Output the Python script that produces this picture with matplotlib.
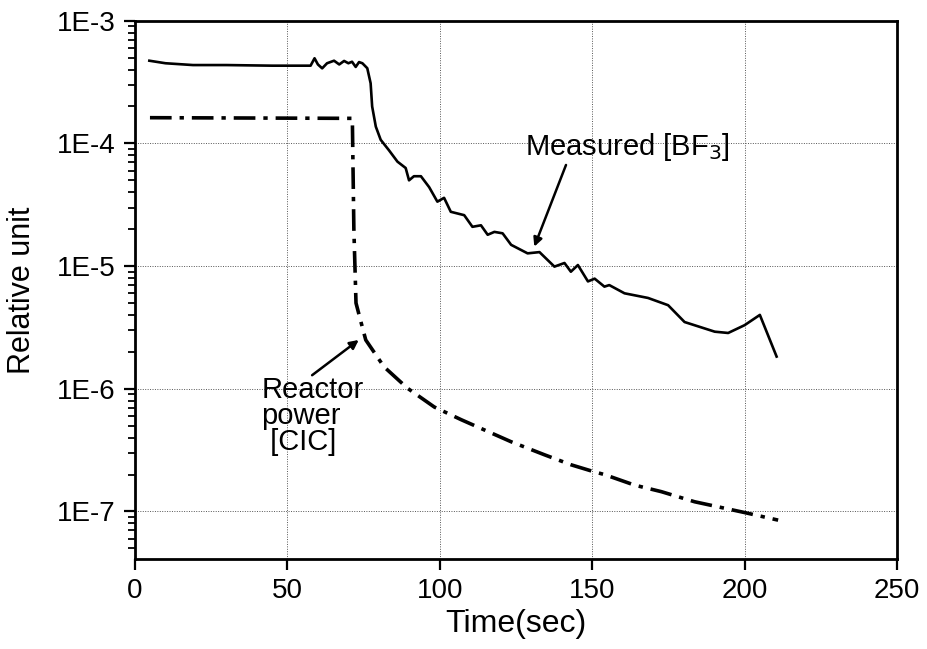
import matplotlib
matplotlib.use("Agg")
import matplotlib.pyplot as plt
from matplotlib.ticker import LogLocator, FixedLocator, NullFormatter

plt.rcParams['font.family'] = ['Liberation Sans', 'DejaVu Sans']

# Measured [BF3] (solid)
bf3_t = [4.7, 10, 19, 30, 45, 57.6, 58.9, 60.0, 61.4, 63.0, 65.3, 67.0, 68.6, 70.0, 71.2,
         72.4, 73.5, 74.6, 76.2, 77.3, 77.8, 79.0, 80.6, 83.3, 86.1, 88.8, 89.9, 91.5,
         93.8, 96.5, 99.2, 101.4, 103.6, 108.0, 110.7, 113.5, 115.7, 117.9, 120.6,
         123.4, 128.8, 132.7, 137.6, 140.9, 143.0, 145.3, 148.6, 150.8, 154.0, 155.6,
         160.6, 168.3, 174.9, 180.3, 190.2, 194.6, 200.0, 205.0, 210.5]
bf3_v = [4.72e-4, 4.5e-4, 4.35e-4, 4.35e-4, 4.3e-4, 4.3e-4, 4.94e-4, 4.4e-4, 4.09e-4,
         4.5e-4, 4.72e-4, 4.4e-4, 4.7e-4, 4.5e-4, 4.63e-4, 4.2e-4, 4.6e-4, 4.5e-4, 4.1e-4,
         3.09e-4, 2.0e-4, 1.37e-4, 1.07e-4, 8.8e-5, 7.1e-5, 6.3e-5, 5.0e-5, 5.4e-5,
         5.4e-5, 4.4e-5, 3.35e-5, 3.6e-5, 2.77e-5, 2.6e-5, 2.09e-5, 2.15e-5, 1.8e-5,
         1.9e-5, 1.85e-5, 1.49e-5, 1.27e-5, 1.3e-5, 9.9e-6, 1.06e-5, 9.0e-6, 1.02e-5,
         7.5e-6, 7.9e-6, 6.8e-6, 7.0e-6, 6.0e-6, 5.5e-6, 4.8e-6, 3.5e-6, 2.92e-6,
         2.85e-6, 3.3e-6, 4.0e-6, 1.83e-6]

# Reactor power [CIC] (dash-dot)
cic_t = [4.9, 71.3, 71.8, 72.5, 74.0, 75.7, 81.7, 89.4, 98.2, 107.0, 123.4, 134.3,
         143.1, 150.8, 154.0, 163.9, 172.7, 183.6, 200.0, 211.0]
cic_v = [1.62e-4, 1.6e-4, 2.0e-5, 5.0e-6, 3.6e-6, 2.5e-6, 1.51e-6, 1.01e-6, 7.1e-7,
         5.6e-7, 3.7e-7, 2.9e-7, 2.4e-7, 2.1e-7, 2.0e-7, 1.64e-7, 1.45e-7, 1.2e-7,
         9.8e-8, 8.5e-8]

x_ticks = [0, 50, 100, 150, 200, 250]
y_ticks = [1e-7, 1e-6, 1e-5, 1e-4, 1e-3]
y_tick_labels = ['1E-7', '1E-6', '1E-5', '1E-4', '1E-3']

fig = plt.figure(figsize=(9.28, 6.49), dpi=100)
ax = fig.add_axes([0.1455, 0.1387, 0.8211, 0.8294])

ax.plot(bf3_t, bf3_v, color='black', lw=1.9, zorder=3)
ax.plot(cic_t, cic_v, color='black', lw=2.6, dashes=(6, 2.2, 1.2, 2.2), zorder=3)

ax.set_yscale('log')
ax.set_xlim(0, 250)
ax.set_ylim(4.1e-8, 1e-3)

ax.xaxis.set_major_locator(FixedLocator(x_ticks))
ax.set_xticklabels([str(v) for v in x_ticks])
ax.yaxis.set_major_locator(FixedLocator(y_ticks))
ax.set_yticklabels(y_tick_labels)
ax.yaxis.set_minor_locator(LogLocator(base=10, subs=range(2, 10), numticks=20))
ax.yaxis.set_minor_formatter(NullFormatter())

ax.tick_params(axis='both', which='major', direction='out', length=8, width=1.6,
               labelsize=20, pad=6)
ax.tick_params(axis='y', which='minor', direction='out', length=5, width=1.3)
ax.tick_params(axis='x', which='minor', length=0)

for s in ax.spines.values():
    s.set_linewidth(2.0)

ax.grid(True, which='major', linestyle=(0, (1, 1.5)), color='#555555', lw=0.7)
ax.set_axisbelow(True)

ax.set_xlabel('Time(sec)', fontsize=23, labelpad=3)
ax.set_ylabel('Relative unit', fontsize=22, labelpad=14)

# Measured label and arrow
ax.text(161.5, 9.3e-5, 'Measured [BF$_3$]', fontsize=21, ha='center', va='center')
ax.annotate('', xy=(131, 1.44e-5), xytext=(141.4, 6.67e-5),
            arrowprops=dict(arrowstyle='-|>', color='black', lw=1.8,
                            mutation_scale=13, shrinkA=0, shrinkB=0))

# Reactor power label and arrow
ax.text(41.5, 6.0e-7, 'Reactor\npower\n [CIC]', fontsize=21, ha='left', va='center',
        linespacing=0.92)
ax.annotate('', xy=(73.4, 2.5e-6), xytext=(58.1, 1.29e-6),
            arrowprops=dict(arrowstyle='-|>', color='black', lw=1.8,
                            mutation_scale=13, shrinkA=0, shrinkB=0))

fig.savefig('out.png', dpi=100)
